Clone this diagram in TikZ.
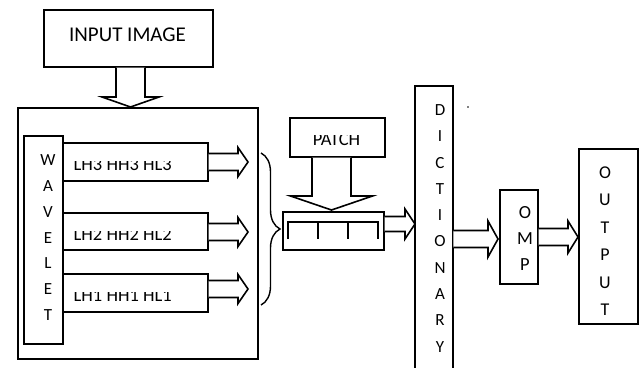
\documentclass[tikz,border=0pt]{standalone}
\usepackage{fontspec}
\setmainfont{Carlito}
\usetikzlibrary{calc,decorations.pathreplacing}
\tikzset{
  bx/.style={draw, line width=1.6pt, rectangle, anchor=north west, inner sep=0pt},
  blk/.style={draw, line width=1.6pt, fill=white, line join=miter},
  vl/.style={inner sep=0pt, anchor=base},
  lbl/.style={inner sep=0pt, anchor=base west, font=\fontsize{18.5}{18.5}\selectfont},
}
\newcommand\harrow[5]{%
  \draw[blk] let \p1=#1, \p2=#2 in
    (\x1,\y2+#3) -- (\x2-#5,\y2+#3) -- (\x2-#5,\y2+#4) -- (\p2)
    -- (\x2-#5,\y2-#4) -- (\x2-#5,\y2-#3) -- (\x1,\y2-#3);}
\newcommand\varrow[5]{%
  \draw[blk] let \p1=#1, \p2=#2 in
    (\x2-#3,\y1) -- (\x2-#3,\y2+#5) -- (\x2-#4,\y2+#5) -- (\p2)
    -- (\x2+#4,\y2+#5) -- (\x2+#3,\y2+#5) -- (\x2+#3,\y1);}
\begin{document}
\begin{tikzpicture}[x=1pt,y=-1pt]
\useasboundingbox (0,0) rectangle (644,367);
% boxes
\node[bx, minimum width=169pt, minimum height=57pt] (input) at (43,9) {};
\node[inner sep=0pt, anchor=base, font=\fontsize{21}{21}\selectfont] (inputtxt) at (127.5,41) {INPUT IMAGE};
\node[bx, minimum width=240pt, minimum height=251pt] (big) at (17,107) {};
\node[bx, minimum width=39pt, minimum height=208pt] (wav) at (23,135) {};
\node[bx, minimum width=145pt, minimum height=38pt] (sub1) at (62,142) {};
\node[bx, minimum width=145pt, minimum height=37pt] (sub2) at (62,212) {};
\node[bx, minimum width=145pt, minimum height=38pt] (sub3) at (62,273) {};
\begin{scope}
  \clip (64,161) rectangle (205,178) (64,231) rectangle (205,247) (64,292) rectangle (205,309);
  \node[lbl] (l1) at (73.5,170) {LH3 HH3 HL3};
  \node[lbl] (l2) at (73.5,240) {LH2 HH2 HL2};
  \node[lbl] (l3) at (73.5,301) {LH1 HH1 HL1};
\end{scope}
\foreach \l [count=\i from 0] in {W,A,V,E,L,E,T}
  \node[vl, font=\fontsize{17}{17}\selectfont] (wl\i) at (48,{160+25.9*\i+5.3}) {\l};
% patch
\node[bx, minimum width=95pt, minimum height=39pt] (patch) at (289,117) {};
\begin{scope}
  \clip (291,135.5) rectangle (382,154);
  \node[inner sep=0pt, anchor=base, font=\fontsize{18.5}{18.5}\selectfont] (patchtxt) at (336.5,145) {PATCH};
\end{scope}
\node[bx, minimum width=101pt, minimum height=38pt] (arr) at (282,211) {};
\draw[line width=1.8pt] (288,239) -- (288,222) -- (378,222) -- (378,239);
\draw[line width=1.8pt] (318,222) -- (318,239) (348,222) -- (348,239);
% dictionary
\node[inner sep=0pt, minimum width=38pt, minimum height=290pt, anchor=north west] (dict) at (415,86) {};
\draw[line width=1.6pt] (415,368) -- (415,86) -- (453,86) -- (453,368);
\foreach \l [count=\i from 0] in {D,I,C,T,I,O,N,A,R,Y}
  \node[vl, font=\fontsize{17}{17}\selectfont] (dl\i) at (440,{110+26.3*\i+5.4}) {\l};
\fill (468,107) circle (0.9pt);
% omp
\node[bx, minimum width=38pt, minimum height=94pt] (omp) at (499,189) {};
\foreach \l [count=\i from 0] in {O,M,P}
  \node[vl, font=\fontsize{18.5}{18.5}\selectfont] (ol\i) at (525,{213+26*\i+5.8}) {\l};
% output
\node[bx, minimum width=59pt, minimum height=175pt] (out) at (578,148) {};
\foreach \l [count=\i from 0] in {O,U,T,P,U,T}
  \node[vl, font=\fontsize{18}{18}\selectfont] (ul\i) at (605,{172.5+27.5*\i+5.7}) {\l};
% tips
\coordinate (t1) at (248,162);
\coordinate (t2) at (248,232);
\coordinate (t3) at (248,289);
\coordinate (tin) at (130.5,107);
\coordinate (tp) at (331.5,210);
\coordinate (td) at (415,224);
\coordinate (to) at (498,239);
\coordinate (tu) at (578,237);
% arrows
\varrow{(input.south)}{(tin)}{14.5pt}{28.5pt}{10pt}
\varrow{(patch.south)}{(tp)}{19.5pt}{41pt}{14pt}
\harrow{(sub1.east)}{(t1)}{8.5pt}{14.5pt}{10pt}
\harrow{(sub2.east)}{(t2)}{8.5pt}{14.5pt}{10pt}
\harrow{(sub3.east)}{(t3)}{8.5pt}{14.5pt}{10pt}
\harrow{(arr.east)}{(td)}{7.5pt}{15pt}{10pt}
\harrow{(dict.east)}{(to)}{8.5pt}{18pt}{10pt}
\harrow{(omp.east)}{(tu)}{8.5pt}{16pt}{10pt}
% brace
\coordinate (bt) at (261,153);
\coordinate (bb) at (261,305);
\draw[line width=1.4pt, decorate, decoration={brace, amplitude=19pt}] (bt) -- (bb);
\end{tikzpicture}
\end{document}
